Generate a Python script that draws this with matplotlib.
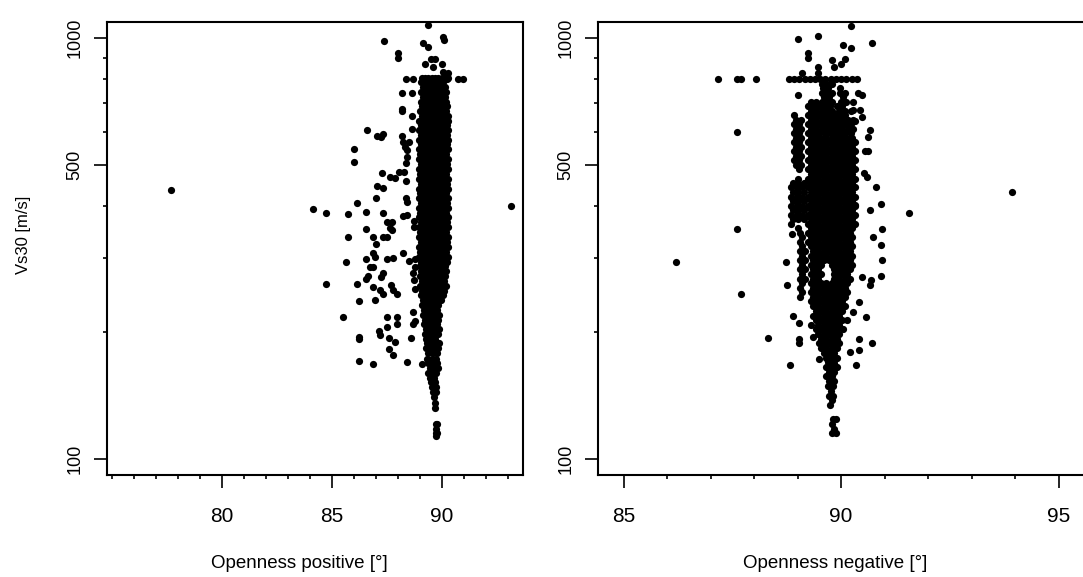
import matplotlib
matplotlib.use("Agg")
import matplotlib.pyplot as plt
from matplotlib.ticker import FixedLocator, MultipleLocator, NullFormatter

plt.rcParams['font.family'] = ['Liberation Sans', 'DejaVu Sans']

# ---- left panel: openness positive vs Vs30, scattered points
pos_x = [77.7, 93.15, 89.4, 87.4, 90.05, 90.1, 88.0, 88.0, 89.15, 89.4,
         89.5, 89.7, 89.25, 89.6, 90.0, 90.05, 90.3,
         88.38, 88.71, 90.25, 90.75, 90.95, 88.18, 88.66, 88.18, 88.18,
         88.66, 88.66, 86.6, 87.05, 87.24, 87.35,
         88.18, 88.25, 88.53, 88.33, 88.41, 88.41, 88.38, 86.03, 86.03,
         87.27, 87.65, 87.88, 88.07, 88.29, 88.38, 87.05, 87.35, 87.01,
         86.14, 84.16, 84.73, 85.75, 86.55, 87.32,
         88.38, 88.41, 88.41, 88.25, 88.75, 88.75,
         87.5, 87.75, 87.65, 87.75, 85.75, 86.55, 86.89, 87.01, 87.32, 87.5,
         88.25, 86.89, 86.97, 86.55, 85.65, 87.53, 87.77,
         88.5, 88.79, 88.79, 86.74, 86.89, 86.55, 86.64, 87.35, 87.24,
         88.71, 88.74, 88.78, 84.73, 86.16, 86.86, 87.2, 87.35,
         87.7, 87.8, 87.95, 86.25, 86.97, 85.5, 87.53, 87.95, 87.95,
         88.71, 88.79, 88.71, 87.53, 86.25, 86.25, 87.15, 87.2,
         87.6, 87.88, 88.59, 87.62, 87.77, 86.25, 86.86, 88.41, 89.09]
pos_y = [435, 400, 1075, 985, 1005, 990, 925, 900, 977, 955,
         895, 895, 870, 855, 870, 830, 825,
         802, 802, 802, 802, 802, 740, 742, 678, 672,
         653, 607, 605, 585, 581, 592,
         585, 567, 567, 552, 543, 523, 505, 544, 508,
         477, 469, 465, 481, 481, 458, 445, 440, 417,
         405, 392, 385, 383, 387, 385,
         416, 408, 380, 377, 368, 355,
         365, 366, 353, 350, 337, 352, 336, 324, 336, 336,
         309, 308, 302, 298, 294, 299, 301,
         296, 298, 286, 286, 286, 268, 272, 276, 270,
         276, 266, 254, 261, 260, 256, 252, 247,
         259, 252, 247, 237, 238, 217, 217, 217, 209,
         223, 213, 209, 206, 195, 193, 201, 197,
         194, 190, 194, 182, 177, 171, 168, 170, 168]

# dense column of the left panel, one list of openness values per Vs30 level
pos_rows_y = [805, 785, 765, 745, 726, 707, 689, 671, 654, 637, 621, 605, 589,
              574, 559, 544, 530, 516, 502, 489, 476, 464, 451, 439, 428, 417,
              406, 395, 385, 375, 365, 355, 346, 337, 328, 319, 311, 302, 294,
              287, 279, 272, 265, 258, 251, 245, 238, 232, 226, 220, 214, 209,
              203, 198, 193, 188, 183, 178, 173, 169, 164, 160, 156, 152, 148,
              144, 140, 136, 132, 121, 118, 115, 113]
pos_rows_x = [
    [89.1, 89.25, 89.4, 89.55, 89.7, 89.85, 90.0, 90.15, 90.3],
    [89.05, 89.25, 89.45, 89.65, 89.85, 90.05],
    [89.15, 89.35, 89.55, 89.75, 89.95, 90.15],
    [89.05, 89.25, 89.45, 89.65, 89.85, 90.05, 90.2],
    [89.15, 89.35, 89.55, 89.75, 89.95, 90.15],
    [89.05, 89.25, 89.45, 89.65, 89.85, 90.05, 90.2],
    [89.1, 89.3, 89.5, 89.7, 89.9, 90.1, 90.25],
    [89.0, 89.2, 89.4, 89.6, 89.8, 90.0, 90.2],
    [89.1, 89.3, 89.5, 89.7, 89.9, 90.1, 90.28],
    [88.95, 89.15, 89.35, 89.55, 89.75, 89.95, 90.15, 90.3],
    [89.05, 89.25, 89.45, 89.65, 89.85, 90.05, 90.25],
    [88.95, 89.15, 89.35, 89.55, 89.75, 89.95, 90.15, 90.3],
    [89.05, 89.25, 89.45, 89.65, 89.85, 90.05, 90.25],
    [88.95, 89.15, 89.35, 89.55, 89.75, 89.95, 90.15, 90.3],
    [89.05, 89.25, 89.45, 89.65, 89.85, 90.05, 90.25],
    [88.95, 89.15, 89.35, 89.55, 89.75, 89.95, 90.15, 90.3],
    [89.0, 89.2, 89.4, 89.6, 89.8, 90.0, 90.2],
    [88.95, 89.15, 89.35, 89.55, 89.75, 89.95, 90.15, 90.3],
    [89.05, 89.25, 89.45, 89.65, 89.85, 90.05, 90.25],
    [88.95, 89.15, 89.35, 89.55, 89.75, 89.95, 90.15, 90.3],
    [89.0, 89.2, 89.4, 89.6, 89.8, 90.0, 90.2],
    [88.95, 89.15, 89.35, 89.55, 89.75, 89.95, 90.15, 90.3],
    [89.05, 89.25, 89.45, 89.65, 89.85, 90.05, 90.25],
    [88.95, 89.15, 89.35, 89.55, 89.75, 89.95, 90.15, 90.3],
    [89.0, 89.2, 89.4, 89.6, 89.8, 90.0, 90.2],
    [88.95, 89.15, 89.35, 89.55, 89.75, 89.95, 90.15, 90.3],
    [89.05, 89.25, 89.45, 89.65, 89.85, 90.05, 90.25],
    [88.95, 89.15, 89.35, 89.55, 89.75, 89.95, 90.15, 90.3],
    [89.0, 89.2, 89.4, 89.6, 89.8, 90.0, 90.2],
    [88.95, 89.15, 89.35, 89.55, 89.75, 89.95, 90.15, 90.3],
    [89.05, 89.25, 89.45, 89.65, 89.85, 90.05, 90.25],
    [88.95, 89.15, 89.35, 89.55, 89.75, 89.95, 90.15, 90.3],
    [89.0, 89.2, 89.4, 89.6, 89.8, 90.0, 90.2],
    [88.95, 89.15, 89.35, 89.55, 89.75, 89.95, 90.15, 90.3],
    [89.05, 89.25, 89.45, 89.65, 89.85, 90.05, 90.25],
    [88.95, 89.15, 89.35, 89.55, 89.75, 89.95, 90.15, 90.3],
    [89.0, 89.2, 89.4, 89.6, 89.8, 90.0, 90.2],
    [88.98, 89.15, 89.35, 89.55, 89.75, 89.95, 90.15, 90.3],
    [89.05, 89.25, 89.45, 89.65, 89.85, 90.05, 90.22],
    [89.0, 89.15, 89.35, 89.55, 89.75, 89.95, 90.15],
    [89.05, 89.25, 89.45, 89.65, 89.85, 90.05, 90.2],
    [89.0, 89.2, 89.4, 89.6, 89.8, 90.0, 90.15],
    [89.1, 89.3, 89.5, 89.7, 89.9, 90.1],
    [89.0, 89.2, 89.4, 89.6, 89.8, 90.0, 90.2],
    [89.1, 89.3, 89.5, 89.7, 89.9, 90.1],
    [89.05, 89.25, 89.45, 89.65, 89.85, 90.05],
    [89.15, 89.35, 89.55, 89.75, 89.95],
    [89.1, 89.3, 89.5, 89.7, 89.85],
    [89.2, 89.4, 89.6, 89.8],
    [89.15, 89.35, 89.55, 89.75, 89.9],
    [89.25, 89.45, 89.65, 89.85],
    [89.2, 89.4, 89.6, 89.8],
    [89.3, 89.5, 89.7, 89.9],
    [89.25, 89.45, 89.65, 89.85],
    [89.3, 89.5, 89.7],
    [89.35, 89.55, 89.75, 89.9],
    [89.3, 89.5, 89.7, 89.85],
    [89.4, 89.6, 89.8],
    [89.35, 89.55, 89.75],
    [89.4, 89.6, 89.8],
    [89.45, 89.65, 89.85],
    [89.4, 89.6, 89.75],
    [89.45, 89.65],
    [89.5, 89.7],
    [89.55, 89.75],
    [89.6, 89.75],
    [89.65],
    [89.7],
    [89.7],
    [89.75, 89.8],
    [89.72],
    [89.75, 89.8],
    [89.72],
]

# ---- right panel: openness negative vs Vs30, scattered points
neg_x = [87.18, 87.6, 87.71, 88.04,
         89.0, 89.48, 90.22, 90.72, 90.05, 90.22,
         89.23, 89.23, 89.8, 89.84, 90.0, 90.09, 89.48, 89.48, 89.11,
         89.0, 87.61, 87.61, 86.2, 87.7, 88.31, 88.83,
         91.57, 93.92,
         90.8, 90.92, 90.66, 90.93, 90.74, 90.91, 90.93, 90.92, 90.69, 90.66,
         90.47, 90.41, 90.28, 90.57, 90.41, 90.72, 90.42, 90.34, 90.2,
         90.4, 90.47, 90.28, 90.28, 90.43, 90.47, 90.32,
         90.66, 90.63, 90.55, 90.63, 90.53, 90.59, 90.32,
         88.88, 88.73, 88.75, 88.9, 89.04, 89.04, 89.04, 89.36, 89.5, 89.5,
         89.69]
neg_y = [802, 802, 802, 802,
         995, 1013, 1068, 977, 966, 947,
         924, 898, 890, 853, 870, 895, 855, 825, 825,
         733, 600, 351, 294, 247, 194, 167,
         385, 431,
         442, 404, 390, 351, 336, 322, 297, 272, 266, 259,
         271, 236, 223, 217, 193, 189, 181, 167, 179,
         740, 733, 707, 675, 675, 650, 637,
         604, 582, 540, 540, 478, 468, 401,
         343, 293, 259, 218, 210, 193, 188, 195, 188, 173,
         170]

# dense cloud of the right panel, one list of openness values per Vs30 level
neg_rows_y = [800, 780, 761, 742, 724, 706, 689, 672, 656, 640, 624, 609, 594,
              580, 566, 552, 539, 526, 513, 500, 488, 476, 464, 453, 442, 431,
              420, 410, 400, 390, 380, 371, 362, 353, 344, 336, 328, 320, 312,
              304, 297, 289, 282, 275, 268, 262, 255, 249, 243, 237, 231, 225,
              219, 214, 208, 203, 198, 193, 188, 183, 178, 174, 169, 165, 161,
              157, 153, 149, 145, 141, 138, 134, 124, 121, 118, 115]
neg_rows_x = [
    [88.8, 88.92, 89.04, 89.16, 89.28, 89.4, 89.52, 89.64, 89.76, 89.88,
     90.0, 90.12, 90.24, 90.36],
    [89.55, 89.67, 89.78],
    [89.58, 89.7, 89.98],
    [89.55, 89.67, 89.78, 89.98, 90.1],
    [89.6, 89.72, 90.05],
    [89.3, 89.42, 89.55, 89.67, 89.78, 90.0, 90.12],
    [89.25, 89.37, 89.5, 89.62, 89.74, 89.9, 90.02],
    [89.3, 89.42, 89.55, 89.67, 89.78, 89.95, 90.1, 90.22],
    [88.92, 89.25, 89.37, 89.5, 89.62, 89.74, 89.86, 89.98, 90.1],
    [88.96, 89.08, 89.3, 89.42, 89.55, 89.67, 89.79, 89.91, 90.03, 90.15, 90.27],
    [88.92, 89.04, 89.25, 89.37, 89.5, 89.62, 89.74, 89.86, 89.98, 90.1, 90.22],
    [88.96, 89.08, 89.3, 89.42, 89.55, 89.67, 89.79, 89.91, 90.03, 90.15, 90.27],
    [88.92, 89.04, 89.25, 89.37, 89.5, 89.62, 89.74, 89.86, 89.98, 90.1, 90.22],
    [88.96, 89.08, 89.3, 89.42, 89.54, 89.66, 89.78, 89.9, 90.02, 90.14, 90.26],
    [88.92, 89.04, 89.24, 89.36, 89.48, 89.6, 89.72, 89.84, 89.96, 90.08, 90.2, 90.32],
    [88.96, 89.08, 89.3, 89.42, 89.54, 89.66, 89.78, 89.9, 90.02, 90.14, 90.26],
    [88.92, 89.04, 89.24, 89.36, 89.48, 89.6, 89.72, 89.84, 89.96, 90.08, 90.2, 90.32],
    [88.96, 89.08, 89.3, 89.42, 89.54, 89.66, 89.78, 89.9, 90.02, 90.14, 90.26],
    [88.92, 89.04, 89.24, 89.36, 89.48, 89.6, 89.72, 89.84, 89.96, 90.08, 90.2, 90.32],
    [88.96, 89.08, 89.3, 89.42, 89.54, 89.66, 89.78, 89.9, 90.02, 90.14, 90.26],
    [89.04, 89.24, 89.36, 89.48, 89.6, 89.72, 89.84, 89.96, 90.08, 90.2, 90.32],
    [89.3, 89.42, 89.54, 89.66, 89.78, 89.9, 90.02, 90.14, 90.26],
    [89.02, 89.24, 89.36, 89.48, 89.6, 89.72, 89.84, 89.96, 90.08, 90.2, 90.32],
    [88.9, 89.02, 89.14, 89.3, 89.42, 89.54, 89.66, 89.78, 89.9, 90.02, 90.14, 90.26],
    [88.86, 88.98, 89.1, 89.24, 89.36, 89.48, 89.6, 89.72, 89.84, 89.96, 90.08, 90.2, 90.32],
    [88.9, 89.02, 89.14, 89.3, 89.42, 89.54, 89.66, 89.78, 89.9, 90.02, 90.14, 90.26],
    [88.86, 88.98, 89.1, 89.24, 89.36, 89.48, 89.6, 89.72, 89.84, 89.96, 90.08, 90.2, 90.32],
    [88.9, 89.02, 89.14, 89.3, 89.42, 89.54, 89.66, 89.78, 89.9, 90.02, 90.14, 90.26],
    [88.86, 88.98, 89.1, 89.24, 89.36, 89.48, 89.6, 89.72, 89.84, 89.96, 90.08, 90.2, 90.32],
    [88.9, 89.02, 89.14, 89.3, 89.42, 89.54, 89.66, 89.78, 89.9, 90.02, 90.14, 90.26],
    [88.86, 88.98, 89.1, 89.24, 89.36, 89.48, 89.6, 89.72, 89.84, 89.96, 90.08, 90.2, 90.32],
    [88.9, 89.02, 89.14, 89.3, 89.42, 89.54, 89.66, 89.78, 89.9, 90.02, 90.14, 90.26],
    [88.86, 89.24, 89.36, 89.48, 89.6, 89.72, 89.84, 89.96, 90.08, 90.2, 90.32],
    [89.02, 89.3, 89.42, 89.54, 89.66, 89.78, 89.9, 90.02, 90.14, 90.26],
    [89.05, 89.24, 89.36, 89.48, 89.6, 89.72, 89.84, 89.96, 90.08, 90.2],
    [89.1, 89.3, 89.42, 89.54, 89.66, 89.78, 89.9, 90.02, 90.14, 90.26],
    [89.05, 89.24, 89.36, 89.48, 89.6, 89.72, 89.84, 89.96, 90.08, 90.2],
    [89.1, 89.3, 89.42, 89.54, 89.66, 89.78, 89.9, 90.02, 90.14, 90.26],
    [89.05, 89.17, 89.36, 89.48, 89.6, 89.72, 89.84, 89.96, 90.08, 90.2],
    [89.1, 89.3, 89.42, 89.54, 89.66, 89.78, 89.9, 90.02, 90.14, 90.26],
    [89.05, 89.17, 89.36, 89.48, 89.6, 89.72, 89.84, 89.96, 90.08, 90.2],
    [89.1, 89.3, 89.42, 89.54, 89.8, 89.9, 90.02, 90.14, 90.26],
    [89.05, 89.17, 89.36, 89.48, 89.84, 89.96, 90.08, 90.2],
    [89.1, 89.3, 89.42, 89.54, 89.84, 89.9, 90.02, 90.14],
    [89.05, 89.17, 89.36, 89.48, 89.84, 89.96, 90.08, 90.2],
    [89.1, 89.3, 89.42, 89.54, 89.66, 89.78, 89.9, 90.02, 90.14],
    [89.05, 89.36, 89.48, 89.6, 89.72, 89.84, 89.96, 90.08],
    [89.1, 89.3, 89.42, 89.54, 89.66, 89.78, 89.9, 90.02, 90.14],
    [89.05, 89.36, 89.48, 89.6, 89.72, 89.84, 89.96, 90.08],
    [89.3, 89.42, 89.54, 89.66, 89.78, 89.9, 90.02],
    [89.36, 89.48, 89.6, 89.72, 89.84, 89.96, 90.08],
    [89.42, 89.54, 89.66, 89.78, 89.9, 90.02],
    [89.36, 89.48, 89.6, 89.72, 89.84, 89.96],
    [89.42, 89.54, 89.66, 89.78, 89.9, 90.02, 90.14],
    [89.3, 89.48, 89.6, 89.72, 89.84, 89.96],
    [89.42, 89.54, 89.66, 89.78, 89.9, 90.05],
    [89.48, 89.6, 89.72, 89.84, 89.96],
    [89.54, 89.66, 89.78, 89.9],
    [89.6, 89.72, 89.84, 89.96],
    [89.54, 89.66, 89.78, 89.9],
    [89.6, 89.72, 89.84],
    [89.66, 89.78, 89.9],
    [89.72, 89.84],
    [89.66, 89.78, 89.9],
    [89.72, 89.84],
    [89.66, 89.78],
    [89.72, 89.84],
    [89.7, 89.82],
    [89.76],
    [89.72, 89.82],
    [89.78],
    [89.75],
    [89.82, 89.88],
    [89.8],
    [89.84],
    [89.8, 89.88],
]


def collect(xs, ys, rows_x, rows_y):
    px, py = list(xs), list(ys)
    for yv, row in zip(rows_y, rows_x):
        px.extend(row)
        py.extend([yv] * len(row))
    return px, py


lx, ly = collect(pos_x, pos_y, pos_rows_x, pos_rows_y)
rx, ry = collect(neg_x, neg_y, neg_rows_x, neg_rows_y)

fig = plt.figure(figsize=(10.83, 5.77), dpi=100)
ax1 = fig.add_axes([0.09908, 0.17678, 0.38412, 0.78562])
ax2 = fig.add_axes([0.55245, 0.17678, 0.44755, 0.78562])


def style(ax, xlim, xmajor):
    ax.set_yscale('log')
    ax.set_ylim(91.5, 1095)
    ax.set_xlim(*xlim)
    ax.yaxis.set_major_locator(FixedLocator([100, 500, 1000]))
    ax.yaxis.set_minor_locator(FixedLocator([200, 300, 400, 600, 700, 800, 900]))
    ax.yaxis.set_minor_formatter(NullFormatter())
    ax.set_yticklabels(['100', '500', '1000'], rotation=90, va='center')
    ax.xaxis.set_major_locator(FixedLocator(xmajor))
    ax.xaxis.set_minor_locator(MultipleLocator(1))
    ax.tick_params(which='major', length=9.4, width=1.2, color='black')
    ax.tick_params(which='minor', length=3, width=1.2, color='black')
    ax.tick_params(axis='x', which='major', labelsize=15, pad=14)
    ax.tick_params(axis='y', which='major', labelsize=13, pad=8)
    for sp in ax.spines.values():
        sp.set_linewidth(1.5)


ax1.scatter(lx, ly, s=27, c='black', linewidths=0)
style(ax1, (74.8, 93.71), [80, 85, 90])

ax2.scatter(rx, ry, s=27, c='black', linewidths=0)
style(ax2, (84.42, 95.56), [85, 90, 95])
ax2.spines['right'].set_visible(False)

fig.text(24 / 1083, 1 - 235 / 577, 'Vs30 [m/s]', rotation=90,
         ha='center', va='center', fontsize=12)
fig.text(299 / 1083, 1 - 563 / 577, 'Openness positive [°]',
         ha='center', va='center', fontsize=13.5)
fig.text(835 / 1083, 1 - 563 / 577, 'Openness negative [°]',
         ha='center', va='center', fontsize=13.5)

fig.savefig('out.png', dpi=100)
